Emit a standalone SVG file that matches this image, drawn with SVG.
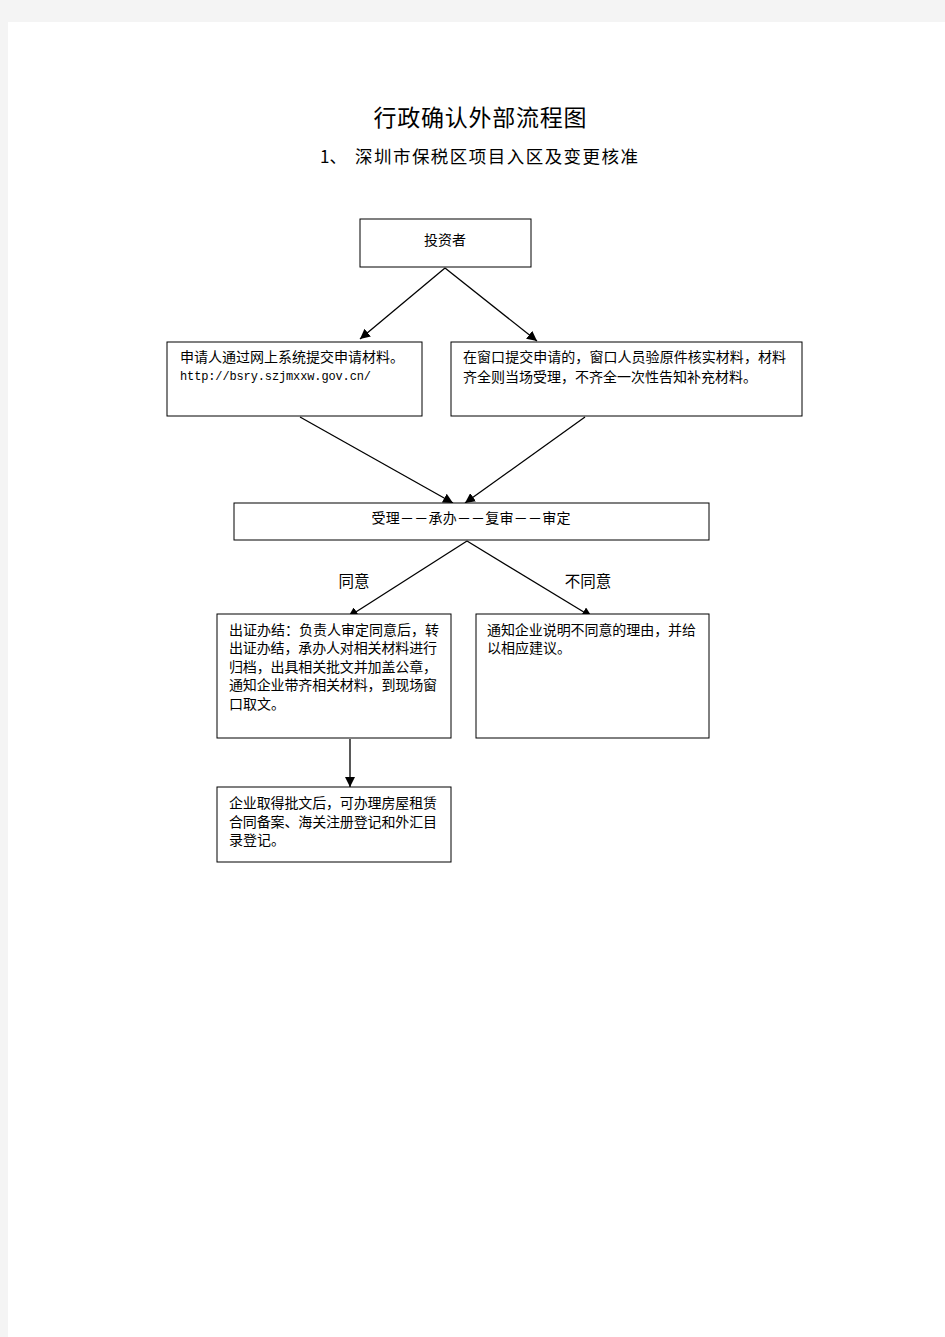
<svg xmlns="http://www.w3.org/2000/svg" width="945" height="1337" viewBox="0 0 945 1337">
<defs>
<style>
.box{fill:#fff;stroke:#000;stroke-width:1}
.t{font-family:"Noto Sans CJK SC","Liberation Sans",sans-serif;font-size:14px;fill:#000}
.lb{font-family:"Noto Sans CJK SC","Liberation Sans",sans-serif;font-size:15.5px;fill:#000}
.m{font-family:"Liberation Mono",monospace;font-size:12px;fill:#000}
.ln{stroke:#000;stroke-width:1.3;fill:none;marker-end:url(#ah)}
</style>
<marker id="ah" viewBox="0 0 10 10" refX="10" refY="5" markerWidth="10" markerHeight="10" markerUnits="userSpaceOnUse" orient="auto">
<path d="M0,0 L10,5 L0,10 z" fill="#000"/>
</marker>
</defs>
<rect x="0" y="0" width="945" height="1337" fill="#f4f4f4"/>
<rect x="8" y="22" width="937" height="1315" fill="#fff"/>
<g id="title">
<text x="480" y="126" text-anchor="middle" font-family="Noto Sans CJK SC, sans-serif" font-size="23" textLength="213">行政确认外部流程图</text>
<text x="320" y="163" font-family="Noto Sans CJK SC, sans-serif" font-size="17">1、</text>
<text x="355" y="163" font-family="Noto Sans CJK SC, sans-serif" font-size="17.5" textLength="283">深圳市保税区项目入区及变更核准</text>
</g>
<g id="connectors">
<line class="ln" x1="445" y1="268" x2="360" y2="339"/>
<line class="ln" x1="445" y1="268" x2="537" y2="341"/>
<line class="ln" x1="300" y1="417" x2="453" y2="503"/>
<line class="ln" x1="585" y1="417" x2="465" y2="503"/>
<line class="ln" x1="467" y1="541" x2="348" y2="617"/>
<line class="ln" x1="467" y1="541" x2="592" y2="617"/>
<line class="ln" x1="350" y1="739" x2="350" y2="787"/>
<text class="lb" x="354" y="587" text-anchor="middle">同意</text>
<text class="lb" x="588" y="587" text-anchor="middle">不同意</text>
</g>
<g id="n1">
<rect class="box" x="360" y="219" width="171" height="48"/>
<text class="t" x="445" y="245" text-anchor="middle">投资者</text>
</g>
<g id="n2">
<rect class="box" x="167" y="342" width="255" height="74"/>
<text class="t" x="180" y="362" textLength="224">申请人通过网上系统提交申请材料。</text>
<text class="m" x="180" y="380" textLength="191">http://bsry.szjmxxw.gov.cn/</text>
</g>
<g id="n3">
<rect class="box" x="451" y="342" width="351" height="74" stroke-width="1.5"/>
<text class="t" x="463" y="362" textLength="323">在窗口提交申请的，窗口人员验原件核实材料，材料</text>
<text class="t" x="463" y="382" textLength="294">齐全则当场受理，不齐全一次性告知补充材料。</text>
</g>
<g id="n4">
<rect class="box" x="234" y="503" width="475" height="37"/>
<text class="t" x="471" y="523" text-anchor="middle" textLength="199">受理－－承办－－复审－－审定</text>
</g>
<g id="n5">
<rect class="box" x="217" y="614" width="234" height="124"/>
<text class="t" x="229" y="635" textLength="210">出证办结：负责人审定同意后，转</text>
<text class="t" x="229" y="653" textLength="208">出证办结，承办人对相关材料进行</text>
<text class="t" x="229" y="672" textLength="208">归档，出具相关批文并加盖公章，</text>
<text class="t" x="229" y="690" textLength="208">通知企业带齐相关材料，到现场窗</text>
<text class="t" x="229" y="709" textLength="56">口取文。</text>
</g>
<g id="n6">
<rect class="box" x="476" y="614" width="233" height="124"/>
<text class="t" x="487" y="635" textLength="209">通知企业说明不同意的理由，并给</text>
<text class="t" x="487" y="653" textLength="84">以相应建议。</text>
</g>
<g id="n7">
<rect class="box" x="217" y="787" width="234" height="75"/>
<text class="t" x="229" y="808" textLength="208">企业取得批文后，可办理房屋租赁</text>
<text class="t" x="229" y="827" textLength="208">合同备案、海关注册登记和外汇目</text>
<text class="t" x="229" y="845" textLength="56">录登记。</text>
</g>
</svg>
